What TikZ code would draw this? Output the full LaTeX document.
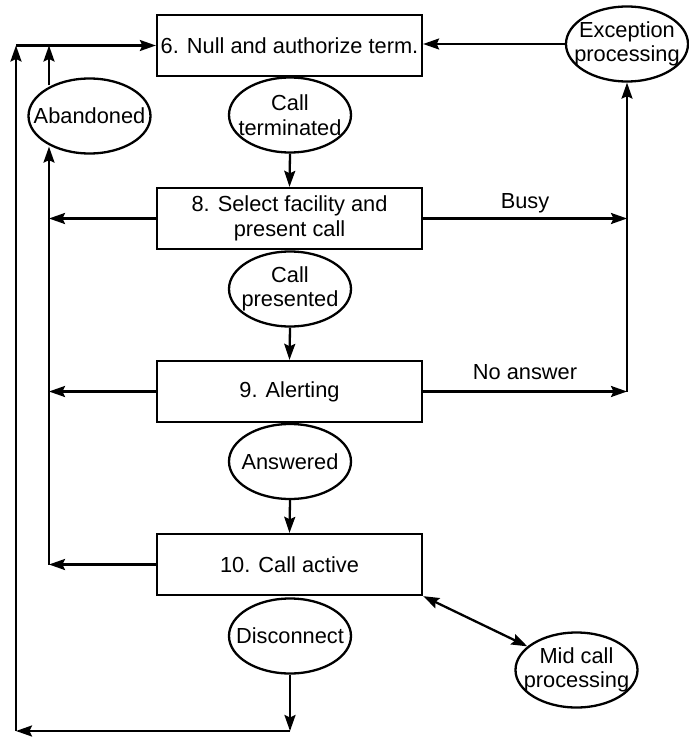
\documentclass[tikz,border=0pt]{standalone}
\usepackage{fontspec}
\setmainfont{Liberation Sans}
\usetikzlibrary{arrows.meta,shapes.geometric}
\begin{document}
\begin{tikzpicture}[x=1pt,y=-1pt,
  every node/.style={font=\fontsize{21.8}{24.5}\selectfont},
  state/.style={draw, line width=2.3pt, rectangle, minimum width=265pt, minimum height=61pt, inner sep=0pt, align=center},
  event/.style={draw, line width=2.3pt, ellipse, minimum width=122pt, minimum height=75pt, inner sep=0pt,
    label={[align=center, inner sep=0pt]center:#1}},
  tip/.tip={Stealth[length=16pt,width=11pt,inset=2.5pt]},
  flow/.style={line width=2.3pt, -tip},
  both/.style={line width=2.3pt, tip-tip},
  lbl/.style={inner sep=0pt}]
\useasboundingbox (0,0) rectangle (688,738);

% states
\node[state] (b6)  at (289.5,45.5)  {6. Null and authorize term.};
\node[state] (b8)  at (289.5,218.5) {8. Select facility and\\present call};
\node[state] (b9)  at (289.5,391.5) {9. Alerting};
\node[state] (b10) at (289.5,564.5) {10. Call active};

% events (fixed-size ellipses, text set as a centred label)
\node[event={Call\\terminated}]     (ct)    at (290,115)   {};
\node[event={Call\\presented}]      (cp)    at (290,289)   {};
\node[event={Answered}]             (ans)   at (290,461.5) {};
\node[event={Disconnect}]           (disc)  at (290,636)   {};
\node[event={Exception\\processing}] (exc)  at (627,44)    {};
\node[event={Abandoned}]            (aband) at (89.5,116)  {};
\node[event={Mid call\\processing}] (mid)   at (576.5,670) {};

% labels
\node[lbl] at (525,203) {Busy};
\node[lbl] at (525,372) {No answer};

% bus coordinates
\coordinate (inner) at (49,0);
\coordinate (outer) at (16,0);
\coordinate (bend)  at (290,731);
\coordinate (obot)  at (16,731);
\coordinate (otop)  at (b6.west -| outer);
\coordinate (itop)  at (b6.west -| inner);
\coordinate (ibot)  at (b10.west -| inner);
\coordinate (aup)   at (aband.141 -| inner);
\coordinate (adn)   at (aband.219 -| inner);
\coordinate (rbus)  at (b9.east -| exc.south);

% main flow
\draw[flow] (exc.west) -- (exc.west -| b6.east);
\draw[flow] (ct.south) -- (b8.north);
\draw[flow] (cp.south) -- (b9.north);
\draw[flow] (ans.south) -- (b10.north);
\draw[flow] (disc.south) -- (bend);
\draw[flow] (bend) -- (obot);
\draw[flow] (obot) -- (otop);
\draw[flow] (otop) -- (b6.west);

% abandon paths on the left
\draw[flow] (b8.west) -- (b8.west -| inner);
\draw[flow] (b9.west) -- (b9.west -| inner);
\draw[flow] (b10.west) -- (ibot);
\draw[flow] (ibot) -- (adn);
\draw[flow] (aup) -- (itop);

% exception paths on the right
\draw[flow] (b8.east) -- (b8.east -| exc.south);
\draw[flow] (b9.east) -- (rbus);
\draw[flow] (rbus) -- (exc.south);

% mid call processing
\draw[both] (b10.south east) -- (mid);
\end{tikzpicture}
\end{document}
